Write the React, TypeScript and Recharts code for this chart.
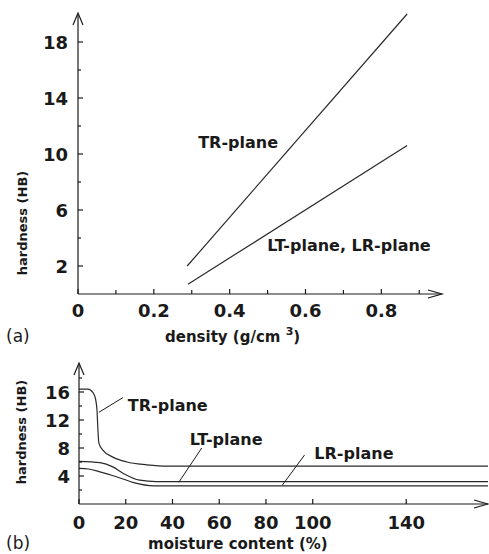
import React from 'react'
import { LineChart, Line, XAxis, YAxis, ReferenceDot, ReferenceLine } from 'recharts'

// (a) hardness vs density
const densityTR = [0.288, 0.868]
const hardnessTR = [2.0, 20.0]
const densityLT = [0.29, 0.868]
const hardnessLT = [0.7, 10.6]
const densityTicks = [0, 0.1, 0.2, 0.3, 0.4, 0.5, 0.6, 0.7, 0.8, 0.9]
const densityLabels = [0, 0.2, 0.4, 0.6, 0.8]
const hardnessTicksA = [2, 4, 6, 8, 10, 12, 14, 16, 18]
const hardnessLabelsA = [2, 6, 10, 14, 18]

// (b) hardness vs moisture content
const moistureTR = [0, 3.8, 6, 7.3, 7.7, 8.1, 8.5, 10.2, 14.5, 20.5, 29, 37.6, 60, 100, 175]
const hardTR = [16.4, 16.4, 15.9, 14.6, 13.4, 10.6, 8.7, 7.7, 6.7, 6.0, 5.6, 5.4, 5.4, 5.4, 5.4]
const moistureLT = [0, 9, 14.5, 18.8, 26, 33, 45, 100, 175]
const hardLT = [6.1, 5.9, 5.3, 4.4, 3.4, 3.2, 3.2, 3.2, 3.2]
const moistureLR = [0, 4, 9, 16, 23, 32, 45, 100, 175]
const hardLR = [5.1, 5.0, 4.6, 3.9, 3.1, 2.6, 2.6, 2.6, 2.6]
const moistureTicks = [0, 20, 40, 60, 80, 100, 140]
const moistureLabels = [0, 20, 40, 60, 80, 100, 140]
const hardnessTicksB = [2, 4, 6, 8, 10, 12, 14, 16, 18]
const hardnessLabelsB = [4, 8, 12, 16]

// curve labels, in data units
const notesA = [
  { text: 'TR-plane', x: 0.317, y: 10.86 },
  { text: 'LT-plane, LR-plane', x: 0.499, y: 3.5 },
]
const notesB = [
  { text: 'TR-plane', x: 20.9, y: 14.1 },
  { text: 'LT-plane', x: 47.4, y: 9.3 },
  { text: 'LR-plane', x: 100.7, y: 7.3 },
]
const leadersB = [
  [{ x: 18.8, y: 15.2 }, { x: 8.5, y: 13.1 }],
  [{ x: 52.5, y: 8.0 }, { x: 42.7, y: 3.1 }],
  [{ x: 96.5, y: 7.0 }, { x: 87, y: 2.7 }],
]

const FONT = '"DejaVu Sans", sans-serif'
const INK = '#1a1a1a'

const zip = (xs: number[], ys: number[]) => xs.map((x, i) => ({ x, y: ys[i] }))

function XTick({ x, y, payload, labels, dy }: any) {
  const shown = labels.includes(payload.value)
  return (
    <g>
      <line x1={x} x2={x} y1={y} y2={y - (shown ? 5 : 4)} stroke={INK} strokeWidth={1.2} />
      {shown && (
        <text x={x} y={y + dy} textAnchor="middle" fontFamily={FONT} fontWeight="bold" fontSize={18} fill={INK}>
          {String(payload.value)}
        </text>
      )}
    </g>
  )
}

function YTick({ x, y, payload, labels, dx }: any) {
  const shown = labels.includes(payload.value)
  return (
    <g>
      <line x1={x} x2={x + (shown ? 5 : 3)} y1={y} y2={y} stroke={INK} strokeWidth={1.2} />
      {shown && (
        <text x={x - dx} y={y + 6.5} textAnchor="end" fontFamily={FONT} fontWeight="bold" fontSize={18} fill={INK}>
          {String(payload.value)}
        </text>
      )}
    </g>
  )
}

const arrowUp = ({ cx, cy }: any) => (
  <path d={`M${cx - 5},${cy + 11} L${cx},${cy - 1} L${cx + 5},${cy + 11}`} fill="none" stroke={INK} strokeWidth={1.2} />
)
const arrowRight = ({ cx, cy }: any) => (
  <path d={`M${cx - 14},${cy - 4} L${cx},${cy} L${cx - 14},${cy + 4}`} fill="none" stroke={INK} strokeWidth={1.2} />
)
const noteShape = (text: string) => ({ cx, cy }: any) => (
  <text x={cx} y={cy + 6} fontFamily={FONT} fontWeight="bold" fontSize={16} fill={INK}>
    {text}
  </text>
)

const titleStyle: React.CSSProperties = {
  position: 'absolute',
  fontFamily: FONT,
  fontWeight: 'bold',
  color: INK,
  whiteSpace: 'nowrap',
  lineHeight: '18px',
}

function YTitle({ cx, cy }: { cx: number; cy: number }) {
  return (
    <div
      style={{
        ...titleStyle,
        fontSize: 13,
        width: 140,
        textAlign: 'center',
        left: cx - 70,
        top: cy - 9,
        transform: 'rotate(-90deg)',
      }}
    >
      hardness (HB)
    </div>
  )
}

export default function App() {
  const lineProps = { dataKey: 'y', dot: false, isAnimationActive: false, stroke: '#2a2a2a', strokeWidth: 1.2 }

  return (
    <div style={{ position: 'absolute', left: 0, top: 0, width: 489, height: 554, background: '#fff', overflow: 'hidden' }}>
      <div style={{ position: 'absolute', left: 0, top: 0 }}>
        <LineChart width={489} height={330} margin={{ top: 14, right: 47, bottom: 35, left: 77 }}>
          <XAxis
            type="number"
            dataKey="x"
            domain={[0, 0.96]}
            ticks={densityTicks}
            interval={0}
            height={1}
            tickSize={0}
            tickMargin={0}
            tickLine={false}
            axisLine={{ stroke: INK, strokeWidth: 1.2 }}
            tick={(p: any) => <XTick {...p} labels={densityLabels} dy={23} />}
          />
          <YAxis
            type="number"
            domain={[0, 20]}
            ticks={hardnessTicksA}
            interval={0}
            width={1}
            tickSize={0}
            tickMargin={0}
            tickLine={false}
            axisLine={{ stroke: INK, strokeWidth: 1.2 }}
            tick={(p: any) => <YTick {...p} labels={hardnessLabelsA} dx={10} />}
          />
          <Line {...lineProps} data={zip(densityTR, hardnessTR)} type="linear" />
          <Line {...lineProps} data={zip(densityLT, hardnessLT)} type="linear" />
          <ReferenceDot x={0} y={20} r={0} ifOverflow="visible" shape={arrowUp} />
          <ReferenceDot x={0.96} y={0} r={0} ifOverflow="visible" shape={arrowRight} />
          {notesA.map((n) => (
            <ReferenceDot key={n.text} x={n.x} y={n.y} r={0} ifOverflow="visible" shape={noteShape(n.text)} />
          ))}
        </LineChart>
      </div>

      <div style={{ position: 'absolute', left: 0, top: 340 }}>
        <LineChart width={489} height={214} margin={{ top: 24, right: 1, bottom: 49, left: 78 }}>
          <XAxis
            type="number"
            dataKey="x"
            domain={[0, 175]}
            ticks={moistureTicks}
            interval={0}
            height={1}
            tickSize={0}
            tickMargin={0}
            tickLine={false}
            axisLine={{ stroke: INK, strokeWidth: 1.2 }}
            tick={(p: any) => <XTick {...p} labels={moistureLabels} dy={25} />}
          />
          <YAxis
            type="number"
            domain={[0, 20]}
            ticks={hardnessTicksB}
            interval={0}
            width={1}
            tickSize={0}
            tickMargin={0}
            tickLine={false}
            axisLine={{ stroke: INK, strokeWidth: 1.2 }}
            tick={(p: any) => <YTick {...p} labels={hardnessLabelsB} dx={9} />}
          />
          <Line {...lineProps} data={zip(moistureTR, hardTR)} type="monotone" />
          <Line {...lineProps} data={zip(moistureLT, hardLT)} type="monotone" />
          <Line {...lineProps} data={zip(moistureLR, hardLR)} type="monotone" />
          {leadersB.map((seg, i) => (
            <ReferenceLine key={i} segment={seg} stroke={INK} strokeWidth={1} ifOverflow="visible" />
          ))}
          {notesB.map((n) => (
            <ReferenceDot key={n.text} x={n.x} y={n.y} r={0} ifOverflow="visible" shape={noteShape(n.text)} />
          ))}
          <ReferenceDot x={0} y={20} r={0} ifOverflow="visible" shape={arrowUp} />
          <ReferenceDot x={175} y={0} r={0} ifOverflow="visible" shape={arrowRight} />
        </LineChart>
      </div>

      <YTitle cx={23} cy={223} />
      <YTitle cx={22} cy={432} />

      <div style={{ ...titleStyle, left: 6, top: 327, fontSize: 17, fontWeight: 'normal' }}>(a)</div>
      <div style={{ ...titleStyle, left: 165, top: 328, fontSize: 15 }}>
        density (g/cm <sup style={{ fontSize: 11, verticalAlign: 'top', position: 'relative', top: -5 }}>3</sup>)
      </div>

      <div style={{ ...titleStyle, left: 6, top: 534, fontSize: 17, fontWeight: 'normal' }}>(b)</div>
      <div style={{ ...titleStyle, left: 148, top: 535, fontSize: 15 }}>moisture content (%)</div>
    </div>
  )
}
